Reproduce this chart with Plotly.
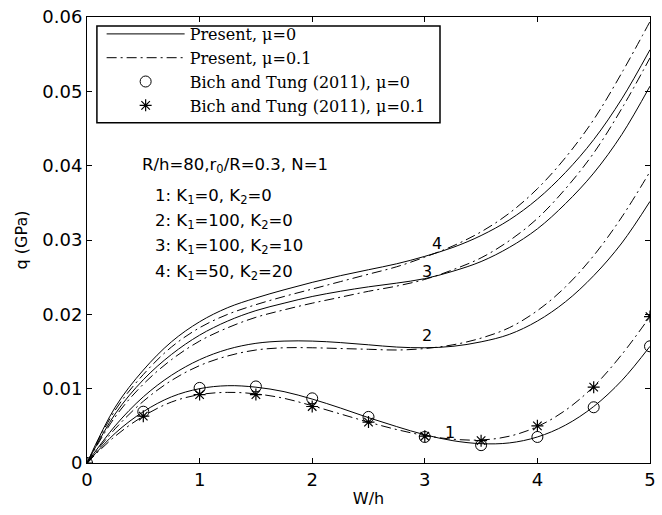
import plotly.graph_objects as go

# W/h grid for the computed curves
w = [0, 0.25, 0.5, 0.75, 1, 1.25, 1.5, 1.75, 2, 2.25, 2.5, 2.75, 3, 3.25, 3.5,
     3.75, 4, 4.25, 4.5, 4.75, 5]

# Present, mu=0 (solid)
c1_mu0 = [0, 0.0040, 0.0069, 0.0089, 0.0100, 0.0104, 0.0102, 0.0096, 0.0086, 0.0074,
          0.0061, 0.0049, 0.0038, 0.0030, 0.0026, 0.0027, 0.0035, 0.0051, 0.0076, 0.0111, 0.0157]
c2_mu0 = [0, 0.0050, 0.0089, 0.0118, 0.0139, 0.0153, 0.0161, 0.0164, 0.0164, 0.0162,
          0.0159, 0.0156, 0.0155, 0.0157, 0.0163, 0.0173, 0.0191, 0.0217, 0.0252, 0.0296, 0.0352]
c3_mu0 = [0, 0.0066, 0.0112, 0.0146, 0.0172, 0.0191, 0.0205, 0.0215, 0.0224, 0.0231,
          0.0237, 0.0242, 0.0248, 0.0258, 0.0271, 0.0290, 0.0315, 0.0349, 0.0390, 0.0442, 0.0507]
c4_mu0 = [0, 0.0075, 0.0125, 0.0163, 0.0190, 0.0209, 0.0222, 0.0233, 0.0243, 0.0252,
          0.0260, 0.0268, 0.0278, 0.0290, 0.0306, 0.0327, 0.0355, 0.0391, 0.0435, 0.0490, 0.0556]

# Present, mu=0.1 (dash-dot)
c1_mu01 = [0, 0.0036, 0.0063, 0.0082, 0.0092, 0.0095, 0.0093, 0.0087, 0.0077, 0.0066,
           0.0055, 0.0045, 0.0037, 0.0032, 0.0031, 0.0036, 0.0049, 0.0071, 0.0103, 0.0146, 0.0197]
c2_mu01 = [0, 0.0046, 0.0083, 0.0111, 0.0131, 0.0144, 0.0152, 0.0155, 0.0155, 0.0154,
           0.0153, 0.0152, 0.0154, 0.0159, 0.0168, 0.0182, 0.0205, 0.0237, 0.0279, 0.0331, 0.0392]
c3_mu01 = [0, 0.0062, 0.0106, 0.0139, 0.0164, 0.0182, 0.0196, 0.0206, 0.0215, 0.0223,
           0.0231, 0.0238, 0.0247, 0.0260, 0.0276, 0.0299, 0.0329, 0.0369, 0.0417, 0.0477, 0.0545]
c4_mu01 = [0, 0.0071, 0.0119, 0.0156, 0.0182, 0.0200, 0.0213, 0.0224, 0.0234, 0.0244,
           0.0254, 0.0264, 0.0277, 0.0292, 0.0311, 0.0336, 0.0369, 0.0411, 0.0462, 0.0525, 0.0594]

# Bich and Tung (2011), curve 1
w_ref = [0, 0.5, 1, 1.5, 2, 2.5, 3, 3.5, 4, 4.5, 5]
ref_mu0 = [0, 0.0069, 0.0101, 0.0103, 0.0087, 0.0062, 0.0035, 0.0024, 0.0035, 0.0075, 0.0157]
ref_mu01 = [0, 0.0063, 0.0092, 0.0092, 0.0076, 0.0055, 0.0036, 0.0030, 0.0050, 0.0102, 0.0197]

x_ticks = [0, 1, 2, 3, 4, 5]
y_ticks = [0, 0.01, 0.02, 0.03, 0.04, 0.05, 0.06]
y_tick_text = ["0", "0.01", "0.02", "0.03", "0.04", "0.05", "0.06"]

curve_labels = ["1", "2", "3", "4"]
label_x = [3.22, 3.02, 3.02, 3.11]
label_y = [0.0041, 0.0171, 0.0258, 0.0295]

DASHDOT = "10px,4px,2px,4px"
SANS = "DejaVu Sans, Arial"
SERIF = "DejaVu Serif, Times New Roman"

fig = go.Figure()
solid = [c1_mu0, c2_mu0, c3_mu0, c4_mu0]
dd = [c1_mu01, c2_mu01, c3_mu01, c4_mu01]
for i, ys in enumerate(solid):
    fig.add_trace(go.Scatter(x=w, y=ys, mode="lines", line=dict(color="black", width=1, shape="spline"),
                             name="Present, μ=0", showlegend=(i == 0), legendrank=1))
for i, ys in enumerate(dd):
    fig.add_trace(go.Scatter(x=w, y=ys, mode="lines",
                             line=dict(color="black", width=1, dash=DASHDOT, shape="spline"),
                             name="Present, μ=0.1", showlegend=(i == 0), legendrank=2))
fig.add_trace(go.Scatter(x=w_ref, y=ref_mu0, mode="markers",
                         marker=dict(symbol="circle-open", size=11, color="black", line=dict(width=1)),
                         name="Bich and Tung (2011), μ=0", legendrank=3))
fig.add_trace(go.Scatter(x=w_ref, y=ref_mu01, mode="markers",
                         marker=dict(symbol="asterisk-open", size=10, color="black", line=dict(width=1.2)),
                         name="Bich and Tung (2011), μ=0.1", legendrank=4))

for t, lx, ly in zip(curve_labels, label_x, label_y):
    fig.add_annotation(x=lx, y=ly, text=t, showarrow=False, xanchor="center", yanchor="middle",
                       font=dict(family=SANS, size=16, color="black"))

info_lines = [
    ("R/h=80,r<sub>0</sub>/R=0.3, N=1", 0.47, 0.0400),
    ("1: K<sub>1</sub>=0, K<sub>2</sub>=0", 0.585, 0.0359),
    ("2: K<sub>1</sub>=100, K<sub>2</sub>=0", 0.585, 0.0325),
    ("3: K<sub>1</sub>=100, K<sub>2</sub>=10", 0.585, 0.0291),
    ("4: K<sub>1</sub>=50, K<sub>2</sub>=20", 0.585, 0.0256),
]
for t, lx, ly in info_lines:
    fig.add_annotation(x=lx, y=ly, text=t, showarrow=False, xanchor="left", yanchor="middle",
                       font=dict(family=SANS, size=16.5, color="black"))

axis_common = dict(showgrid=False, zeroline=False, showline=True, linecolor="black", linewidth=1,
                   mirror="ticks", ticks="inside", ticklen=5, tickcolor="black",
                   tickfont=dict(family=SANS, size=18, color="black"))
fig.update_xaxes(range=[0, 5], tickvals=x_ticks, title=dict(text="W/h", standoff=4,
                 font=dict(family=SANS, size=16, color="black")), **axis_common)
fig.update_yaxes(range=[0, 0.06], tickvals=y_ticks, ticktext=y_tick_text,
                 title=dict(text="q (GPa)", standoff=10,
                            font=dict(family=SANS, size=16, color="black")),
                 **axis_common)

# legend frame
fig.add_shape(type="rect", xref="paper", yref="paper", x0=0.0176, x1=0.627, y0=0.763, y1=0.980,
              line=dict(color="black", width=1.5), fillcolor="white", layer="above")

fig.update_layout(
    width=662, height=515,
    margin=dict(l=87, r=6, t=15, b=52),
    plot_bgcolor="white", paper_bgcolor="white",
    showlegend=True,
    legend=dict(x=0.026, y=1.0, xanchor="left", yanchor="top", borderwidth=0,
                bgcolor="rgba(0,0,0,0)", itemwidth=78, tracegroupgap=0,
                font=dict(family=SERIF, size=16, color="black")),
)

fig.write_html("out.html")
